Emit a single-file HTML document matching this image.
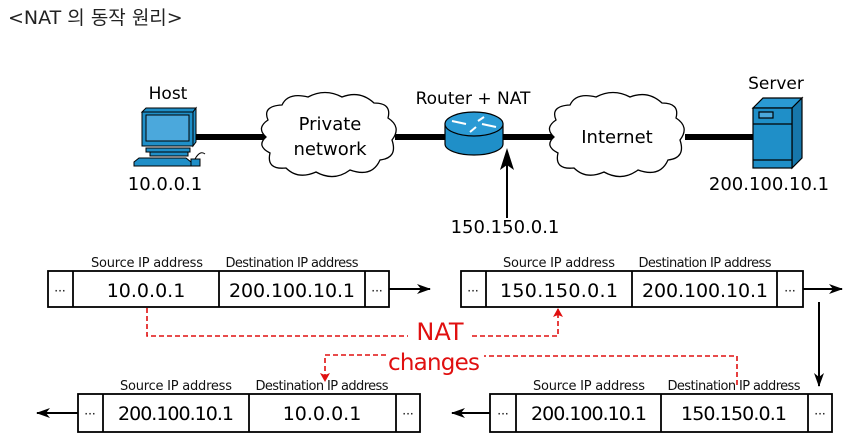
<!DOCTYPE html>
<html><head><meta charset="utf-8"><style>
body{margin:0;background:#fff;width:856px;height:442px;overflow:hidden}
svg{display:block}
text{font-family:"DejaVu Sans","Liberation Sans",sans-serif}
</style></head><body>
<svg width="856" height="442" viewBox="0 0 856 442" xmlns="http://www.w3.org/2000/svg">
<defs>
<marker id="ah" markerWidth="14" markerHeight="10" refX="13" refY="5" orient="auto" markerUnits="userSpaceOnUse"><path d="M0,0 L14,5 L0,10 L4,5z" fill="#000"/></marker>
<marker id="rh" markerWidth="9" markerHeight="10" refX="8" refY="5" orient="auto" markerUnits="userSpaceOnUse"><path d="M0,0 L9,5 L0,10 L2,5z" fill="#e01010"/></marker>
</defs>
<text x="8" y="24" font-size="19" font-family="'Liberation Sans','Noto Sans CJK KR',sans-serif" fill="#222">&lt;NAT 의 동작 원리&gt;</text>

<g stroke="#000" stroke-width="6">
<line x1="190" y1="137" x2="265" y2="137"/>
<line x1="395" y1="137" x2="450" y2="137"/>
<line x1="500" y1="137" x2="555" y2="137"/>
<line x1="685" y1="137" x2="755" y2="137"/>
</g>

<text x="168" y="99" font-size="17" text-anchor="middle">Host</text>
<g stroke="#000" stroke-width="1" fill="#1f8fc8">
<path d="M142,112 L146,108 L196,108 L193,112z"/>
<path d="M193,112 L196,108 L196,142 L193,146z"/>
<rect x="142" y="112" width="51" height="34"/>
<rect x="146" y="115" width="43" height="26" fill="#4ba8dc"/>
<rect x="146" y="148" width="44" height="4"/>
<rect x="150" y="152" width="38" height="4"/>
<path d="M139,158 L186,158 L191,162 L191,166 L134,166 L134,162z"/>
<rect x="191" y="159" width="9" height="7"/>
<path d="M195,159 Q200,150 205,154" fill="none"/>
</g>
<text x="165" y="190" font-size="18" text-anchor="middle">10.0.0.1</text>

<g fill="#fff" stroke="#000" stroke-width="1.3">
<path d="M268,120 Q262,106 282,105 Q288,92 308,97 Q325,88 342,97 Q360,90 374,103 Q392,103 388,118 Q402,127 392,140 Q398,158 380,160 Q372,178 350,170 Q334,182 316,172 Q298,180 286,168 Q266,170 270,153 Q256,146 266,137 Q256,128 268,120z"/>
<path d="M556,120 Q550,106 570,105 Q576,92 596,97 Q613,88 630,97 Q648,90 662,103 Q680,103 676,118 Q690,127 680,140 Q686,158 668,160 Q660,178 638,170 Q622,182 604,172 Q586,180 574,168 Q554,170 558,153 Q544,146 554,137 Q544,128 556,120z"/>
</g>
<text x="330" y="130" font-size="18" text-anchor="middle">Private</text>
<text x="330" y="155" font-size="18" text-anchor="middle">network</text>
<text x="617" y="143" font-size="18" text-anchor="middle">Internet</text>

<text x="473" y="104" font-size="17" text-anchor="middle">Router + NAT</text>
<g stroke="#000" stroke-width="1.2" fill="#1f8fc8">
<path d="M445,124 L445,144 A29,11 0 0 0 503,144 L503,124z"/>
<ellipse cx="474" cy="124" rx="29" ry="12" fill="#2a9ad4"/>
</g>
<g stroke="#fff" stroke-width="2" fill="none">
<line x1="452" y1="121" x2="466" y2="124"/><line x1="496" y1="127" x2="482" y2="124"/>
<line x1="470" y1="132" x2="476" y2="127"/><line x1="484" y1="117" x2="478" y2="121"/>
</g>
<line x1="507" y1="218" x2="507" y2="152" stroke="#000" stroke-width="2"/>
<path d="M507,148 L500,170 L507,165 L514,170z" fill="#000"/>
<text x="505" y="233" font-size="18" text-anchor="middle">150.150.0.1</text>

<text x="776" y="89" font-size="17" text-anchor="middle">Server</text>
<g stroke="#000" stroke-width="1.2" fill="#1f8fc8">
<path d="M753,108 L763,98 L802,98 L792,108z" fill="#2a9ad4"/>
<path d="M792,108 L802,98 L802,158 L792,168z" fill="#1777ab"/>
<rect x="753" y="108" width="39" height="60"/>
<line x1="753" y1="124" x2="792" y2="124"/>
<line x1="753" y1="160" x2="792" y2="160"/>
<rect x="759" y="112" width="14" height="6" fill="#4ba8dc"/>
</g>
<text x="769" y="190" font-size="18" text-anchor="middle">200.100.10.1</text>

<g font-size="13" text-anchor="middle" fill="#111">
<text x="147" y="267" textLength="112">Source IP address</text><text x="292" y="267" textLength="133">Destination IP address</text>
<text x="559" y="267" textLength="112">Source IP address</text><text x="705" y="267" textLength="133">Destination IP address</text>
<text x="176" y="390" textLength="112">Source IP address</text><text x="322" y="390" textLength="133">Destination IP address</text>
<text x="589" y="390" textLength="112">Source IP address</text><text x="734" y="390" textLength="133">Destination IP address</text>
</g>
<g fill="none" stroke="#000" stroke-width="1.8">
<rect x="48" y="271" width="341" height="36"/><line x1="73" y1="271" x2="73" y2="307"/><line x1="219" y1="271" x2="219" y2="307"/><line x1="365" y1="271" x2="365" y2="307"/>
<rect x="461" y="271" width="342" height="36"/><line x1="486" y1="271" x2="486" y2="307"/><line x1="632" y1="271" x2="632" y2="307"/><line x1="777" y1="271" x2="777" y2="307"/>
<rect x="78" y="394" width="342" height="38"/><line x1="103" y1="394" x2="103" y2="432"/><line x1="249" y1="394" x2="249" y2="432"/><line x1="396" y1="394" x2="396" y2="432"/>
<rect x="490" y="394" width="342" height="38"/><line x1="516" y1="394" x2="516" y2="432"/><line x1="661" y1="394" x2="661" y2="432"/><line x1="808" y1="394" x2="808" y2="432"/>
</g>
<g stroke="#000" stroke-width="2">
<line x1="389" y1="289" x2="430" y2="289" marker-end="url(#ah)"/>
<line x1="803" y1="289" x2="842" y2="289" marker-end="url(#ah)"/>
<line x1="819" y1="302" x2="819" y2="386" marker-end="url(#ah)"/>
<line x1="78" y1="413" x2="37" y2="413" marker-end="url(#ah)"/>
<line x1="490" y1="413" x2="452" y2="413" marker-end="url(#ah)"/>
</g>
<g font-size="19" text-anchor="middle" fill="#000">
<text x="60" y="295" font-size="12">···</text><text x="146" y="297">10.0.0.1</text><text x="292" y="297" textLength="126">200.100.10.1</text><text x="377" y="295" font-size="12">···</text>
<text x="473" y="295" font-size="12">···</text><text x="559" y="297" textLength="118">150.150.0.1</text><text x="705" y="297" textLength="126">200.100.10.1</text><text x="790" y="295" font-size="12">···</text>
<text x="90" y="418" font-size="12">···</text><text x="176" y="420" textLength="116">200.100.10.1</text><text x="322" y="420">10.0.0.1</text><text x="408" y="418" font-size="12">···</text>
<text x="503" y="418" font-size="12">···</text><text x="589" y="420" textLength="116">200.100.10.1</text><text x="734" y="420" textLength="106">150.150.0.1</text><text x="820" y="418" font-size="12">···</text>
</g>

<g fill="none" stroke="#e01010" stroke-width="1.6" stroke-dasharray="5,3">
<path d="M147,308 L147,336 L408,336"/>
<path d="M472,336 L558,336 L558,309" marker-end="url(#rh)"/>
<path d="M737,385 L737,356 L484,356"/>
<path d="M386,355 L325,355 L325,381" marker-end="url(#rh)"/>
</g>
<text x="440" y="340" font-size="24" fill="#e01010" text-anchor="middle">NAT</text>
<text x="434" y="370" font-size="23" fill="#e01010" text-anchor="middle" textLength="92">changes</text>
</svg>
</body></html>
